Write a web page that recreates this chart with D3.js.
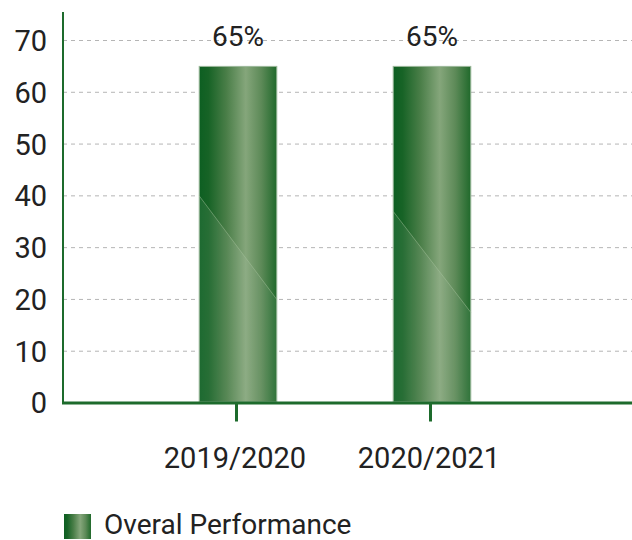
<!DOCTYPE html>
<html><head><meta charset="utf-8">
<script src="https://cdn.jsdelivr.net/npm/d3@7"></script>
<style>body{margin:0;background:#fff}svg{display:block}text{font-family:Roboto,"Noto Sans",sans-serif;fill:#222}</style>
</head><body>
<script>
const categories = ["2019/2020", "2020/2021"];
const values = [65, 65];
const valueLabels = ["65%", "65%"];
const yTicks = [0, 10, 20, 30, 40, 50, 60, 70];
const seriesName = "Overal Performance";

const W = 632, H = 540;
const svg = d3.select("body").append("svg").attr("width", W).attr("height", H);
const defs = svg.append("defs");
const g = defs.append("linearGradient").attr("id", "barGrad").attr("x1", 0).attr("x2", 1).attr("y1", 0).attr("y2", 0);
[[0, "#0d5f22"], [0.12, "#176326"], [0.35, "#4a7e48"], [0.6, "#85a67b"], [0.8, "#5d8a58"], [1, "#20692b"]]
  .forEach(([o, c]) => g.append("stop").attr("offset", o).attr("stop-color", c));

const x0 = 63, xEnd = 632, yBase = 403;
const y = d3.scaleLinear().domain([0, 70]).range([yBase, 40.5]);
const x = d3.scaleBand().domain(categories).range([141, 529]).paddingInner(0.6).paddingOuter(0.3);

// grid
svg.append("g").selectAll("line").data(yTicks.filter(d => d > 0)).join("line")
  .attr("x1", x0).attr("x2", xEnd).attr("y1", d => y(d)).attr("y2", d => y(d))
  .attr("stroke", "#b5b5b5").attr("stroke-width", 1).attr("stroke-dasharray", "4,4");

// y labels
svg.append("g").selectAll("text").data(yTicks).join("text")
  .attr("x", 47).attr("y", d => y(d)).attr("dy", "0.36em").attr("text-anchor", "end")
  .attr("font-size", 29).text(d => d);

// bars
const bars = svg.append("g").selectAll("g").data(categories).join("g");
bars.append("rect")
  .attr("x", d => x(d)).attr("width", x.bandwidth())
  .attr("y", (d, i) => y(values[i])).attr("height", (d, i) => yBase - 1 - y(values[i]))
  .attr("fill", "url(#barGrad)").attr("stroke", "#9bb89a").attr("stroke-width", 1);
// subtle diagonal gloss
bars.append("path")
  .attr("d", (d, i) => {
    const l = x(d), r = x(d) + x.bandwidth();
    const yl = y(i === 0 ? 40 : 37), yr = y(i === 0 ? 20 : 17.5);
    return `M${l},${yl}L${r},${yr}L${r},${yBase - 1}L${l},${yBase - 1}Z`;
  })
  .attr("fill", "#ffffff").attr("opacity", 0.07);
bars.append("line")
  .attr("x1", d => x(d)).attr("x2", d => x(d) + x.bandwidth())
  .attr("y1", (d, i) => y(i === 0 ? 40 : 37)).attr("y2", (d, i) => y(i === 0 ? 20 : 17.5))
  .attr("stroke", "#a8c4a0").attr("stroke-width", 0.8).attr("opacity", 0.6);

// value labels
svg.append("g").selectAll("text").data(categories).join("text")
  .attr("x", d => x(d) + x.bandwidth() / 2).attr("y", 46).attr("text-anchor", "middle")
  .attr("font-size", 28).text((d, i) => valueLabels[i]);

// axes
svg.append("line").attr("x1", x0).attr("x2", x0).attr("y1", 12).attr("y2", yBase)
  .attr("stroke", "#1d6b2c").attr("stroke-width", 2);
svg.append("line").attr("x1", x0 - 1).attr("x2", xEnd).attr("y1", yBase).attr("y2", yBase)
  .attr("stroke", "#1d6b2c").attr("stroke-width", 3);
svg.append("g").selectAll("line").data(categories).join("line")
  .attr("x1", d => x(d) + x.bandwidth() / 2 - 1.5).attr("x2", d => x(d) + x.bandwidth() / 2 - 1.5)
  .attr("y1", yBase).attr("y2", 421.5).attr("stroke", "#1d6b2c").attr("stroke-width", 3);
svg.append("g").selectAll("text").data(categories).join("text")
  .attr("x", d => x(d) + x.bandwidth() / 2 - 3).attr("y", 467.5).attr("text-anchor", "middle")
  .attr("font-size", 29).text(d => d);

// legend
svg.append("rect").attr("x", 64).attr("y", 514).attr("width", 27).attr("height", 25).attr("fill", "url(#barGrad)");
svg.append("text").attr("x", 104).attr("y", 534).attr("font-size", 28).text(seriesName);
</script>
</body></html>
